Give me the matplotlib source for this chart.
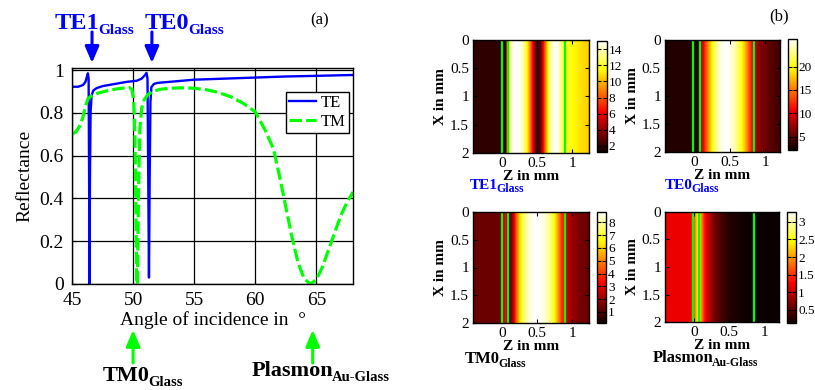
"""Reflectance vs. angle of incidence (a) and mode intensity maps (b)."""

import matplotlib
matplotlib.use("Agg")
import matplotlib.pyplot as plt
import numpy as np
from matplotlib.text import Annotation
from matplotlib.ticker import FuncFormatter

plt.rcParams["font.family"] = ["Liberation Serif", "DejaVu Serif"]

W, H = 815, 390

# ── (a) reflectance curves ───────────────────────────────────────────────
TE_ANGLE = [45.0, 45.5, 45.9, 46.1, 46.2, 46.3, 46.36, 46.40, 46.43, 46.47,
            46.52, 46.6, 46.75, 47.0, 47.5, 48.5, 49.5, 50.3, 50.7, 50.95,
            51.1, 51.18, 51.24, 51.3, 51.36, 51.42, 51.5, 51.7, 52.0, 53.0,
            55.0, 57.5, 60.0, 62.5, 65.0, 68.0]
TE_R = [0.922, 0.922, 0.93, 0.945, 0.965, 0.985, 0.96, 0.5, 0.0, 0.5,
        0.8, 0.88, 0.905, 0.915, 0.925, 0.935, 0.945, 0.95, 0.96, 0.975,
        0.987, 0.96, 0.5, 0.03, 0.5, 0.85, 0.92, 0.935, 0.94, 0.945,
        0.955, 0.96, 0.965, 0.97, 0.973, 0.977]

TM_ANGLE = [45.0, 45.3, 45.6, 45.9, 46.1, 46.3, 46.6, 47.0, 48.0, 49.0,
            49.7, 49.9, 50.05, 50.15, 50.25, 50.3, 50.35, 50.45, 50.55, 50.7,
            50.9, 51.2, 51.6, 52.2, 53.0, 54.0, 55.0, 56.0, 57.0, 58.0,
            59.0, 60.0, 60.8, 61.5, 62.0, 62.5, 63.0, 63.5, 64.0, 64.5,
            65.0, 65.5, 66.0, 66.5, 67.0, 67.5, 68.0]
TM_R = [0.70, 0.71, 0.735, 0.78, 0.83, 0.865, 0.88, 0.89, 0.905, 0.915,
        0.918, 0.91, 0.86, 0.7, 0.25, 0.0, 0.0, 0.45, 0.72, 0.82,
        0.86, 0.885, 0.9, 0.91, 0.915, 0.917, 0.915, 0.908, 0.895, 0.875,
        0.845, 0.805, 0.72, 0.63, 0.5, 0.36, 0.22, 0.1, 0.025, 0.0,
        0.02, 0.08, 0.16, 0.24, 0.32, 0.38, 0.43]

# ── (b) intensity profiles along Z (constant along X) ────────────────────
Z_MM = [-0.40, -0.35, -0.30, -0.25, -0.20, -0.15, -0.10, -0.05, 0.00, 0.05,
        0.10, 0.15, 0.20, 0.25, 0.30, 0.35, 0.40, 0.45, 0.50, 0.55,
        0.60, 0.65, 0.70, 0.75, 0.80, 0.85, 0.90, 0.95, 1.00, 1.05,
        1.10, 1.15, 1.20, 1.25]
TE1_I = [2.0, 2.0, 2.0, 2.0, 2.0, 2.0, 2.0, 2.0, 2.0, 2.0,
         12.5, 14.5, 15.0, 14.8, 14.0, 12.0, 9.0, 5.5, 1.8, 3.0,
         7.0, 11.0, 14.0, 15.0, 14.5, 13.0, 12.0, 11.8, 11.5, 11.3,
         11.0, 10.8, 10.6, 10.4]
TE0_I = [3.0, 3.0, 3.0, 3.0, 3.0, 3.0, 3.0, 3.0, 3.0, 3.0,
         8.0, 12.0, 16.0, 19.5, 22.5, 24.5, 25.5, 25.8, 25.5, 24.5,
         23.0, 21.0, 18.5, 15.5, 12.0, 8.5, 7.0, 6.3, 5.8, 5.3,
         4.9, 4.5, 4.2, 4.0]
TM0_I = [1.4, 1.4, 1.4, 1.4, 1.4, 1.4, 1.4, 1.4, 1.6, 3.3,
         1.0, 1.8, 4.2, 6.0, 7.3, 8.0, 8.5, 8.7, 8.8, 8.7,
         8.5, 8.1, 7.5, 6.6, 5.3, 4.0, 3.0, 2.3, 2.0, 1.8,
         1.6, 1.5, 1.4, 1.35]
PL_I = [1.2, 1.2, 1.2, 1.2, 1.2, 1.2, 1.2, 1.2, 1.6, 2.4,
        2.1, 1.4, 1.05, 0.8, 0.62, 0.5, 0.4, 0.33, 0.28, 0.24,
        0.21, 0.19, 0.17, 0.16, 0.15, 0.14, 0.14, 0.14, 0.14, 0.14,
        0.14, 0.14, 0.14, 0.14]

LEFT_LINES = [0.0, 0.09, 0.9]
RIGHT_LINES = [-0.01, 0.08, 0.85]

BLUE = "#0000ff"
GREEN = "#00ff00"
fmt = FuncFormatter(lambda v, p: f"{v:g}")


def px_rect(x0, y0, x1, y1):
    return [x0 / W, 1 - y1 / H, (x1 - x0) / W, (y1 - y0) / H]


def sub_text(x, y, main, sub, color, size, subsize):
    t = fig.text(x / W, 1 - y / H, main, color=color, fontsize=size,
                 fontweight="bold", va="baseline", ha="left")
    fig.add_artist(Annotation(sub, xy=(1, 0), xycoords=t, xytext=(-1.2, 0),
                              textcoords="offset points", color=color,
                              fontsize=subsize, fontweight="bold",
                              va="baseline", ha="left"))


def heat_panel(rect, crect, vals, vmin, vmax, cticks, xlim, glines):
    ax = fig.add_axes(rect)
    dz = Z_MM[1] - Z_MM[0]
    img = np.vstack([vals, vals])
    im = ax.imshow(img, cmap="hot", aspect="auto", vmin=vmin, vmax=vmax,
                   extent=(Z_MM[0] - dz / 2, Z_MM[-1] + dz / 2, 2, 0),
                   interpolation="bilinear", interpolation_stage="data")
    for z in glines:
        ax.axvline(z, color=GREEN, lw=1.6)
    ax.set_xlim(*xlim)
    ax.set_ylim(2, 0)
    ax.set_xticks([0, 0.5, 1])
    ax.set_yticks([0, 0.5, 1, 1.5, 2])
    ax.xaxis.set_major_formatter(fmt)
    ax.yaxis.set_major_formatter(fmt)
    ax.tick_params(direction="in", length=3, labelsize=11, right=True,
                   top=True, pad=3)
    ax.set_xlabel("Z in mm", fontsize=11, fontweight="bold", labelpad=0)
    ax.set_ylabel("X in mm", fontsize=11, fontweight="bold", labelpad=2)
    for s in ax.spines.values():
        s.set_linewidth(1.0)
    cax = fig.add_axes(crect)
    cb = fig.colorbar(im, cax=cax, ticks=cticks, format=fmt)
    cb.ax.tick_params(direction="in", length=3, labelsize=9.5, left=True,
                      right=True, pad=1.5)
    cb.outline.set_linewidth(1.0)


fig = plt.figure(figsize=(W / 100, H / 100), dpi=100)

ax = fig.add_axes(px_rect(72, 67.5, 353, 284))
ax.plot(TE_ANGLE, TE_R, color=BLUE, lw=1.7, label="TE")
ax.plot(TM_ANGLE, TM_R, color=GREEN, lw=2.3, dashes=(3.9, 1.3), label="TM")
ax.set_xlim(45, 68)
ax.set_ylim(0, 1.012)
ax.set_xticks([45, 50, 55, 60, 65])
ax.set_yticks([0, 0.2, 0.4, 0.6, 0.8, 1.0])
ax.yaxis.set_major_formatter(fmt)
ax.grid(True, color="black", lw=0.9)
ax.tick_params(direction="in", length=3, labelsize=14, pad=6)
ax.set_xlabel("Angle of incidence in  °", fontsize=14, labelpad=1)
ax.set_ylabel("Reflectance", fontsize=14, labelpad=4)
for s in ax.spines.values():
    s.set_linewidth(1.0)
leg = ax.legend(loc="upper right", bbox_to_anchor=(0.986, 0.887),
                fontsize=12, fancybox=False, edgecolor="black", framealpha=1,
                borderpad=0.2, labelspacing=0.15, handlelength=1.6,
                handletextpad=0.3, borderaxespad=0)
leg.get_frame().set_linewidth(1.0)

arrow_kw = dict(arrowstyle="-|>,head_width=0.3,head_length=0.7", lw=2.2,
                mutation_scale=14, shrinkA=0, shrinkB=0)
for xa, col, y_tip, y_tail in [(46.64, BLUE, 1.021, 1.164),
                               (51.54, BLUE, 1.021, 1.164),
                               (50.0, GREEN, -0.212, -0.365),
                               (64.7, GREEN, -0.212, -0.365)]:
    ax.annotate("", xy=(xa, y_tip), xycoords=("data", "axes fraction"),
                xytext=(xa, y_tail), textcoords=("data", "axes fraction"),
                arrowprops=dict(color=col, **arrow_kw), annotation_clip=False)

sub_text(55, 29, "TE1", "Glass", BLUE, 17.5, 11)
sub_text(145, 29, "TE0", "Glass", BLUE, 17.5, 11)
sub_text(103, 381, "TM0", "Glass", "black", 16, 10.5)
sub_text(252, 376, "Plasmon", "Au-Glass", "black", 16, 10.5)
fig.text(320 / W, 1 - 20 / H, "(a)", fontsize=12, ha="center", va="center")
fig.text(779 / W, 1 - 16 / H, "(b)", fontsize=12, ha="center", va="center")

# ── (b) panels ───────────────────────────────────────────────────────────
heat_panel(px_rect(473.3, 40, 589.3, 153), px_rect(596.7, 41, 606.7, 152.3),
           TE1_I, 1.22, 15.0, [2, 4, 6, 8, 10, 12, 14], (-0.41, 1.24),
           LEFT_LINES)
heat_panel(px_rect(665, 40, 780, 152), px_rect(788, 39, 796.5, 150),
           TE0_I, 2.15, 25.9, [5, 10, 15, 20], (-0.41, 1.21), RIGHT_LINES)
heat_panel(px_rect(473.3, 212, 589, 323), px_rect(597, 212, 606, 323),
           TM0_I, 0.14, 8.8, [1, 2, 3, 4, 5, 6, 7, 8], (-0.41, 1.24),
           LEFT_LINES)
heat_panel(px_rect(665, 212, 779, 322), px_rect(787, 212, 796, 323),
           PL_I, 0.13, 3.28, [0.5, 1, 1.5, 2, 2.5, 3], (-0.41, 1.21),
           RIGHT_LINES)

sub_text(470, 189, "TE1", "Glass", BLUE, 11, 8.5)
sub_text(665, 189, "TE0", "Glass", BLUE, 11, 8.5)
sub_text(465, 363, "TM0", "Glass", "black", 12, 8.5)
sub_text(653, 362, "Plasmon", "Au-Glass", "black", 12, 8.5)

fig.savefig("out.png", dpi=100)
plt.close("all")
